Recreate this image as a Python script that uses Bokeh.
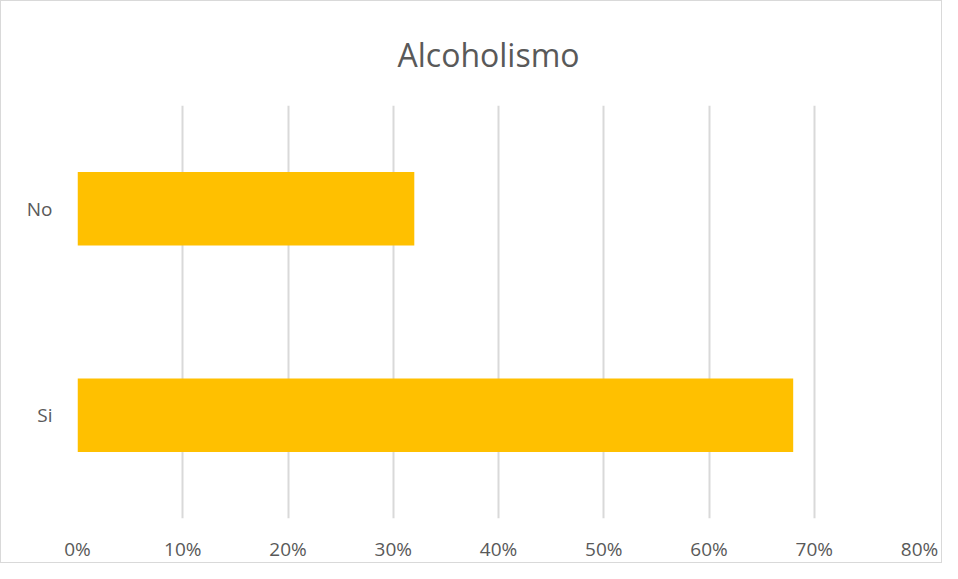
from bokeh.plotting import figure
from bokeh.models import FactorRange, Range1d, FixedTicker, NumeralTickFormatter, ColumnDataSource
from bokeh.embed import file_html
from bokeh.resources import INLINE

categories = ["Si", "No"]
values = [0.68, 0.32]
x_ticks = [0.0, 0.1, 0.2, 0.3, 0.4, 0.5, 0.6, 0.7, 0.8]
title_text = "Alcoholismo"

src = ColumnDataSource(dict(cat=categories, val=values))

p = figure(width=942, height=563, output_backend="svg", toolbar_location=None,
           y_range=FactorRange(*categories), x_range=Range1d(0, 0.8),
           min_border_left=76, min_border_right=24, min_border_top=104, min_border_bottom=43)
p.title.text = title_text
p.title.align = "left"
p.title.offset = 320
p.title.text_font = "Open Sans"
p.title.text_font_size = "32px"
p.title.text_font_style = "normal"
p.title.text_color = "#595959"
p.title.text_line_height = 1.0
p.title.standoff = 59

p.hbar(y="cat", right="val", left=0, height=0.357, source=src, color="#FFC000", line_color=None)

p.outline_line_color = None
p.styles = {"border": "1px solid #d9d9d9"}

p.xaxis.ticker = FixedTicker(ticks=x_ticks)
p.xaxis.formatter = NumeralTickFormatter(format="0%")
for ax in (p.xaxis, p.yaxis):
    ax.axis_line_color = None
    ax.major_tick_line_color = None
    ax.minor_tick_line_color = None
    ax.major_label_text_font = "Open Sans"
    ax.major_label_text_font_size = "19px"
    ax.major_label_text_color = "#595959"
p.xaxis.major_label_standoff = 11
p.yaxis.major_label_standoff = 19

p.xgrid.grid_line_color = "#d9d9d9"
p.xgrid.grid_line_width = 2
p.ygrid.grid_line_color = None

open("out.html", "w").write(file_html(p, INLINE))
